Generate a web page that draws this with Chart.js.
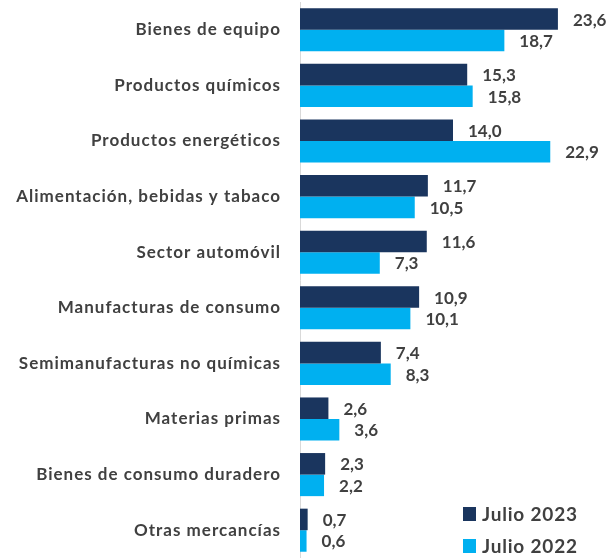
<!DOCTYPE html>
<html>
<head>
<meta charset="utf-8">
<script src="https://cdn.jsdelivr.net/npm/chart.js@4"></script>
<style>
  html, body { margin: 0; padding: 0; background: #ffffff; }
  #wrap { width: 612px; height: 558px; position: relative; }
</style>
</head>
<body>
<div id="wrap"><canvas id="chart"></canvas></div>
<script>
const categories = [
  "Bienes de equipo",
  "Productos químicos",
  "Productos energéticos",
  "Alimentación, bebidas y tabaco",
  "Sector automóvil",
  "Manufacturas de consumo",
  "Semimanufacturas no químicas",
  "Materias primas",
  "Bienes de consumo duradero",
  "Otras mercancías"
];
const julio2023 = [23.6, 15.3, 14.0, 11.7, 11.6, 10.9, 7.4, 2.6, 2.3, 0.7];
const julio2022 = [18.7, 15.8, 22.9, 10.5, 7.3, 10.1, 8.3, 3.6, 2.2, 0.6];
const seriesNames = ["Julio 2023", "Julio 2022"];

const FONT = "Lato, 'Open Sans', sans-serif";
const TEXT = "#404040";

// category labels get a bit of letter spacing (excel look)
const spacingPlugin = {
  id: "spacing",
  beforeDraw(chart) {
    chart.ctx.letterSpacing = "1px";
  },
  beforeDatasetsDraw(chart) {
    chart.ctx.letterSpacing = "0px";
  }
};

// value labels + legend box drawn on top
const labelsPlugin = {
  id: "valueLabels",
  afterDatasetsDraw(chart) {
    const ctx = chart.ctx;
    ctx.save();
    ctx.font = "bold 17px " + FONT;
    ctx.fillStyle = TEXT;
    ctx.textAlign = "left";
    ctx.textBaseline = "middle";
    chart.data.datasets.forEach((ds, i) => {
      const meta = chart.getDatasetMeta(i);
      meta.data.forEach((bar, j) => {
        const txt = ds.data[j].toFixed(1).replace(".", ",");
        ctx.fillText(txt, bar.x + 15, bar.y + 1);
      });
    });

    // legend
    ctx.font = "bold 19px " + FONT;
    ctx.letterSpacing = "0.8px";
    const rows = [514, 546];
    chart.data.datasets.forEach((ds, i) => {
      ctx.fillStyle = ds.backgroundColor;
      ctx.fillRect(463, rows[i] - 7, 13, 14);
      ctx.fillStyle = TEXT;
      ctx.fillText(ds.label, 482, rows[i] + 1);
    });
    ctx.letterSpacing = "0px";
    ctx.restore();
  }
};

new Chart(document.getElementById("chart"), {
  type: "bar",
  data: {
    labels: categories,
    datasets: [
      {
        label: seriesNames[0],
        data: julio2023,
        backgroundColor: "#1a355e",
        barPercentage: 1,
        categoryPercentage: 0.775
      },
      {
        label: seriesNames[1],
        data: julio2022,
        backgroundColor: "#00b0f0",
        barPercentage: 1,
        categoryPercentage: 0.775
      }
    ]
  },
  options: {
    indexAxis: "y",
    responsive: true,
    maintainAspectRatio: false,
    animation: false,
    layout: { padding: { top: 2, right: 6, bottom: 0, left: 0 } },
    plugins: {
      legend: { display: false },
      tooltip: { enabled: false }
    },
    scales: {
      x: {
        display: false,
        min: 0,
        max: 28
      },
      y: {
        afterFit(scale) {
          scale.width = 300;
          scale.paddingTop = 0;
          scale.paddingBottom = 0;
        },
        grid: {
          display: true,
          drawOnChartArea: false,
          drawTicks: false,
          color: "#d9d9d9"
        },
        border: { display: true, color: "#d9d9d9", width: 1 },
        ticks: {
          padding: 19,
          color: TEXT,
          font: { family: FONT, size: 17, weight: "bold" }
        }
      }
    }
  },
  plugins: [spacingPlugin, labelsPlugin]
});
</script>
</body>
</html>
